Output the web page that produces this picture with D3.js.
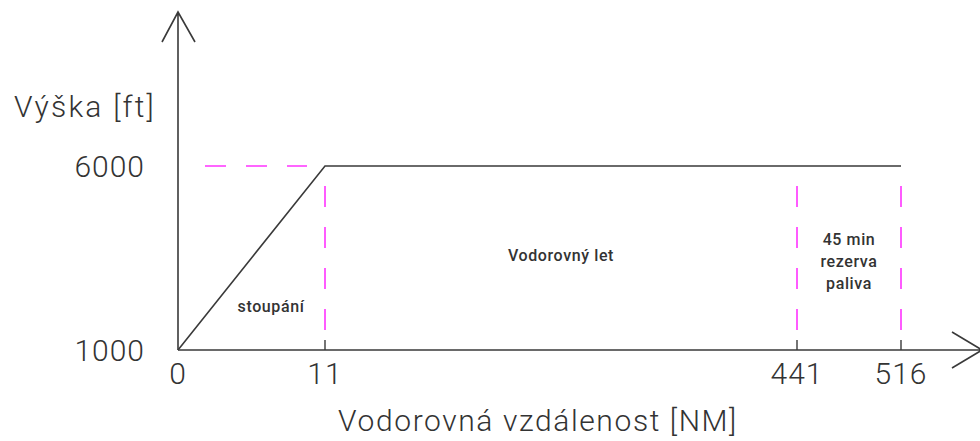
<!doctype html>
<meta charset="utf-8">
<title>Profil letu</title>
<script src="https://cdn.jsdelivr.net/npm/d3@7/dist/d3.min.js"></script>
<style>
  body { margin: 0; background: #fff; }
  text { fill: #333; font-family: Roboto, "DejaVu Sans", sans-serif; }
  .big { font-weight: 300; font-size: 30px; letter-spacing: 1px; }
  .ylab { font-weight: 300; font-size: 30px; letter-spacing: 2.2px; }
  .title { font-weight: 300; font-size: 30px; letter-spacing: 1.6px; }
  .small { font-weight: 500; font-size: 16px; letter-spacing: 0.6px; }
</style>
<div id="chart"></div>
<script>
  // hodnoty z obrázku
  const distTicks = [0, 11, 441, 516]
  const altTicks = [1000, 6000]
  const profile = [[0, 1000], [11, 6000], [516, 6000]]
  const markers = [11, 441, 516]   // svislé čárkované čáry
  const phases = [
    { lines: ['stoupání'], x0: 0, x1: 11, alt: 2030 },
    { lines: ['Vodorovný let'], x0: 11, x1: 441, alt: 3420 },
    { lines: ['45 min', 'rezerva', 'paliva'], x0: 441, x1: 516, alt: 3850 }
  ]

  const width = 980, height = 441
  const svg = d3.select('#chart').append('svg')
    .attr('width', width)
    .attr('height', height)

  // schéma - vzdálenost není v měřítku, proto po částech lineární
  const x = d3.scaleLinear().domain(distTicks).range([178, 325, 797, 901])
  const y = d3.scaleLinear().domain(altTicks).range([350, 166])

  const ink = '#3a3a3a', pink = '#ff33ff'

  // osy
  svg.append('path')
    .attr('d', `M${x(0)},${y(1000)}V12M162,42L${x(0)},12L195,42`)
    .attr('fill', 'none').attr('stroke', ink).attr('stroke-width', 1.6)
  svg.append('path')
    .attr('d', `M${x(0)},${y(1000)}H982M952,332L982,${y(1000)}L952,368`)
    .attr('fill', 'none').attr('stroke', ink).attr('stroke-width', 1.6)

  // tick marks
  svg.selectAll('.tick').data(distTicks.slice(1)).enter().append('line')
    .attr('x1', d => x(d)).attr('x2', d => x(d))
    .attr('y1', y(1000) - 10).attr('y2', y(1000))
    .attr('stroke', ink).attr('stroke-width', 1.4)

  // profil letu
  svg.append('path')
    .datum(profile)
    .attr('d', d3.line().x(d => x(d[0])).y(d => y(d[1])))
    .attr('fill', 'none').attr('stroke', ink).attr('stroke-width', 1.6)

  // čárkované pomocné čáry
  svg.append('line')
    .attr('x1', 205).attr('x2', x(11) - 18)
    .attr('y1', y(6000)).attr('y2', y(6000))
    .attr('stroke', pink).attr('stroke-width', 1.6)
    .attr('stroke-dasharray', '21 20')
  svg.selectAll('.mark').data(markers).enter().append('line')
    .attr('x1', d => x(d)).attr('x2', d => x(d))
    .attr('y1', y(6000) + 20).attr('y2', y(1000) - 20)
    .attr('stroke', pink).attr('stroke-width', 1.6)
    .attr('stroke-dasharray', '21 20')

  // popisky os
  svg.selectAll('.xl').data(distTicks).enter().append('text')
    .attr('class', 'big')
    .attr('x', d => x(d)).attr('y', 384)
    .attr('text-anchor', 'middle')
    .text(d => d)
  svg.selectAll('.yl').data(altTicks).enter().append('text')
    .attr('class', 'big')
    .attr('x', 145).attr('y', d => y(d) + 11)
    .attr('text-anchor', 'end')
    .text(d => d)

  svg.append('text').attr('class', 'ylab')
    .attr('x', 14).attr('y', 117)
    .text('Výška [ft]')
  svg.append('text').attr('class', 'title')
    .attr('x', 538).attr('y', 431)
    .attr('text-anchor', 'middle')
    .text('Vodorovná vzdálenost [NM]')

  // popisky fází
  phases.forEach(p => {
    const cx = p.x0 === 0 ? 271 : (x(p.x0) + x(p.x1)) / 2
    const t = svg.append('text').attr('class', 'small')
      .attr('text-anchor', 'middle')
      .attr('x', cx).attr('y', y(p.alt))
    p.lines.forEach((l, i) => {
      t.append('tspan').attr('x', cx).attr('dy', i ? 22 : 0).text(l)
    })
  })
</script>
